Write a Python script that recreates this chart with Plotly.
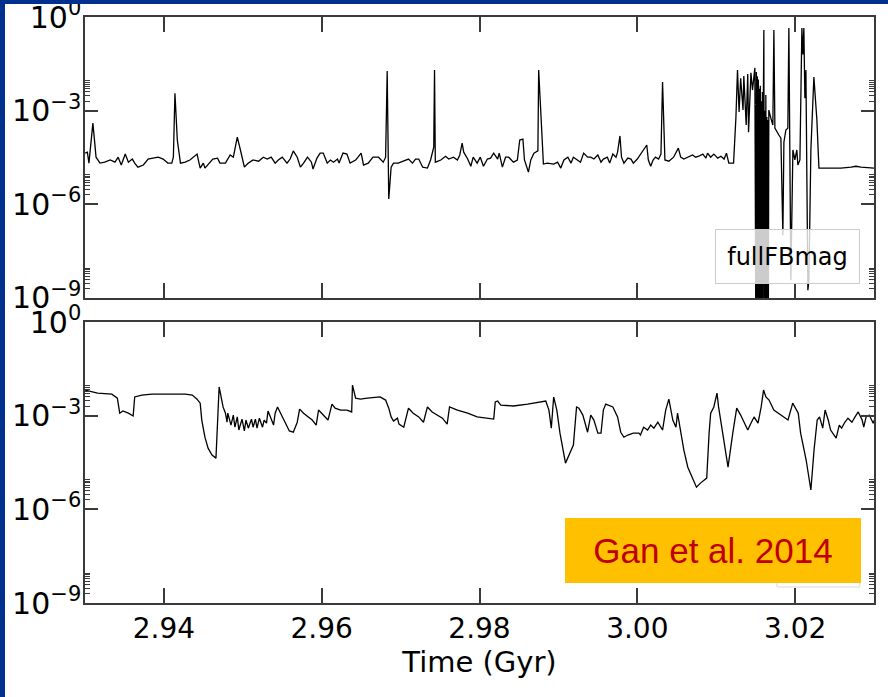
import plotly.graph_objects as go

# ---------------- data ----------------
# Upper panel: fullFBmag, time in Gyr and log10 of the magnitude
top_time = [
    2.9300, 2.9303, 2.9305, 2.9310, 2.9314, 2.9319, 2.9325, 2.9332, 2.9338, 2.9342,
    2.9346, 2.9351, 2.9355, 2.9360, 2.9363, 2.9367, 2.9374, 2.9380, 2.9386, 2.9393,
    2.9399, 2.9405, 2.9410, 2.9412, 2.9414, 2.9417, 2.9421, 2.9427, 2.9433, 2.9442,
    2.9446, 2.9450, 2.9452, 2.9456, 2.9462, 2.9468, 2.9471, 2.9478, 2.9484, 2.9488,
    2.9493, 2.9497, 2.9502, 2.9507, 2.9513, 2.9520, 2.9526, 2.9531, 2.9536, 2.9541,
    2.9545, 2.9550, 2.9556, 2.9560, 2.9564, 2.9569, 2.9573, 2.9577, 2.9582, 2.9587,
    2.9589, 2.9594, 2.9598, 2.9602, 2.9607, 2.9611, 2.9615, 2.9620, 2.9622, 2.9627,
    2.9632, 2.9636, 2.9643, 2.9646, 2.9650, 2.9653, 2.9659, 2.9665, 2.9672, 2.9678,
    2.9681, 2.9683, 2.9685, 2.9688, 2.9691, 2.9697, 2.9704, 2.9710, 2.9715, 2.9719,
    2.9723, 2.9728, 2.9734, 2.9738, 2.9742, 2.9743, 2.9744, 2.9751, 2.9757, 2.9761,
    2.9767, 2.9772, 2.9775, 2.9778, 2.9780, 2.9785, 2.9789, 2.9792, 2.9797, 2.9801,
    2.9805, 2.9810, 2.9814, 2.9818, 2.9823, 2.9825, 2.9829, 2.9833, 2.9837, 2.9843,
    2.9848, 2.9851, 2.9855, 2.9857, 2.9862, 2.9865, 2.9869, 2.9874, 2.9875, 2.9879,
    2.9881, 2.9886, 2.9894, 2.9899, 2.9903, 2.9907, 2.9912, 2.9916, 2.9919, 2.9924,
    2.9928, 2.9932, 2.9937, 2.9941, 2.9945, 2.9950, 2.9954, 2.9957, 2.9962, 2.9965,
    2.9969, 2.9973, 2.9975, 2.9978, 2.9980, 2.9983, 2.9988, 2.9992, 2.9995, 3.0000,
    3.0004, 3.0008, 3.0012, 3.0014, 3.0017, 3.0020, 3.0023, 3.0027, 3.0030, 3.0032,
    3.0035, 3.0040, 3.0046, 3.0052, 3.0055, 3.0059, 3.0065, 3.0070, 3.0074, 3.0078,
    3.0083, 3.0087, 3.0089, 3.0093, 3.0097, 3.0102, 3.0106, 3.0110, 3.0113, 3.0116,
    3.0122, 3.0125, 3.0127, 3.0129, 3.0131, 3.0134, 3.0135, 3.0138, 3.0140, 3.0141,
    3.0144, 3.0146, 3.0149,
    3.01502, 3.01509, 3.01515, 3.01521, 3.01528, 3.01534, 3.01540, 3.01547, 3.01553,
    3.01559, 3.01566, 3.01572, 3.01578, 3.01585, 3.01591, 3.01597, 3.01604, 3.01610,
    3.01616, 3.01623, 3.01629, 3.01635, 3.01642, 3.01648, 3.01655, 3.01661, 3.01667,
    3.01693, 3.01718, 3.01731, 3.01744, 3.01794, 3.01820, 3.01845, 3.01858, 3.01883,
    3.01908, 3.01921, 3.01946, 3.01972, 3.01997, 3.02022, 3.02035, 3.02061, 3.02086,
    3.02099, 3.02111, 3.02124, 3.02137, 3.02162, 3.02175, 3.02200, 3.02238, 3.02276,
    3.02302, 3.02327, 3.02454, 3.02581, 3.02708, 3.02771, 3.02835, 3.03000,
]
top_log10 = [
    -4.36, -4.33, -4.68, -3.40, -4.49, -4.68, -4.65, -4.58, -4.65, -4.49,
    -4.74, -4.39, -4.65, -4.55, -4.68, -4.81, -4.74, -4.55, -4.52, -4.49,
    -4.55, -4.68, -4.68, -4.49, -2.44, -3.94, -4.68, -4.65, -4.58, -4.39,
    -4.84, -4.68, -4.84, -4.71, -4.55, -4.52, -4.68, -4.68, -4.42, -4.49,
    -3.85, -4.26, -4.81, -4.68, -4.58, -4.62, -4.49, -4.55, -4.49, -4.68,
    -4.58, -4.49, -4.68, -4.55, -4.29, -4.49, -4.81, -4.68, -4.49, -4.65,
    -4.87, -4.52, -4.36, -4.36, -4.68, -4.58, -4.65, -4.55, -4.68, -4.36,
    -4.39, -4.68, -4.58, -4.49, -4.36, -4.74, -4.68, -4.49, -4.49, -4.65,
    -4.49, -1.73, -5.83, -4.81, -4.68, -4.68, -4.62, -4.55, -4.68, -4.55,
    -4.55, -4.81, -4.84, -4.58, -4.17, -1.70, -4.65, -4.58, -4.46, -4.55,
    -4.49, -4.58, -4.42, -4.04, -4.33, -4.55, -4.78, -4.49, -4.68, -4.49,
    -4.78, -4.55, -4.52, -4.36, -4.55, -4.36, -4.81, -4.49, -4.49, -4.65,
    -4.58, -3.94, -3.91, -4.58, -4.97, -4.58, -4.36, -4.29, -1.70, -3.94,
    -4.71, -4.68, -4.71, -4.65, -4.84, -4.58, -4.49, -4.68, -4.49, -4.58,
    -4.65, -4.36, -4.49, -4.49, -4.55, -4.42, -4.65, -4.55, -4.49, -4.68,
    -4.39, -4.49, -4.33, -3.81, -4.49, -4.68, -4.52, -4.55, -4.68, -4.55,
    -4.39, -4.26, -4.10, -4.58, -4.78, -4.58, -4.49, -4.55, -4.39, -2.08,
    -4.58, -4.62, -4.49, -4.20, -4.49, -4.55, -4.49, -4.42, -4.49, -4.46,
    -4.39, -4.52, -4.36, -4.49, -4.39, -4.52, -4.46, -4.55, -4.36, -4.68,
    -4.68, -3.21, -1.70, -3.04, -1.96, -2.98, -1.89, -3.46, -1.83, -3.69,
    -1.79, -2.34, -1.63,
    -10.0, -1.76, -10.0, -1.90, -10.0, -2.00, -10.0, -2.30, -10.0,
    -2.20, -10.0, -2.70, -10.0, -2.40, -10.0, -2.90, -0.42, -10.0,
    -3.00, -10.0, -2.50, -10.0, -3.20, -9.70, -3.30, -10.0, -2.98,
    -3.24, -3.46, -0.42, -3.56, -3.78, -3.88, -6.99, -4.01, -3.62,
    -3.56, -0.35, -8.43, -4.26, -4.58, -4.26, -4.74, -4.58, -0.35,
    -1.20, -0.35, -2.60, -1.70, -8.75, -8.43, -4.26, -1.92, -3.30,
    -4.84, -4.84, -4.84, -4.84, -4.81, -4.78, -4.81, -4.84,
]

# Lower panel: time in Gyr and log10 of the magnitude
bottom_time = [
    2.9300, 2.9316, 2.9334, 2.9341, 2.9344, 2.9348, 2.9355, 2.9361, 2.9363, 2.9372,
    2.9385, 2.9405, 2.9427, 2.9436, 2.9442, 2.9446, 2.9448, 2.9452, 2.9456, 2.9461,
    2.9466, 2.9470, 2.9475, 2.9478, 2.9480, 2.9481, 2.9485, 2.9488, 2.9490, 2.9493,
    2.9495, 2.9499, 2.9502, 2.9504, 2.9507, 2.9511, 2.9513, 2.9516, 2.9518, 2.9521,
    2.9525, 2.9527, 2.9530, 2.9532, 2.9536, 2.9539, 2.9541, 2.9544, 2.9549, 2.9554,
    2.9559, 2.9564, 2.9568, 2.9569, 2.9572, 2.9577, 2.9583, 2.9588, 2.9593, 2.9596,
    2.9602, 2.9608, 2.9613, 2.9617, 2.9624, 2.9632, 2.9638, 2.9639, 2.9643, 2.9649,
    2.9658, 2.9668, 2.9674, 2.9681, 2.9685, 2.9688, 2.9691, 2.9696, 2.9698, 2.9704,
    2.9707, 2.9710, 2.9716, 2.9723, 2.9729, 2.9734, 2.9740, 2.9747, 2.9753, 2.9759,
    2.9762, 2.9772, 2.9785, 2.9797, 2.9810, 2.9818, 2.9820, 2.9823, 2.9827, 2.9843,
    2.9861, 2.9874, 2.9884, 2.9888, 2.9891, 2.9894, 2.9898, 2.9902, 2.9909, 2.9915,
    2.9919, 2.9923, 2.9926, 2.9931, 2.9937, 2.9941, 2.9945, 2.9950, 2.9954, 2.9957,
    2.9960, 2.9969, 2.9975, 2.9979, 2.9983, 2.9988, 2.9995, 3.0002, 3.0004, 3.0008,
    3.0013, 3.0017, 3.0021, 3.0026, 3.0032, 3.0036, 3.0040, 3.0045, 3.0049, 3.0051,
    3.0055, 3.0059, 3.0064, 3.0070, 3.0075, 3.0080, 3.0088, 3.0091, 3.0093, 3.0097,
    3.0101, 3.0103, 3.0110, 3.0115, 3.0121, 3.0126, 3.0131, 3.0135, 3.0140, 3.0144,
    3.0148, 3.0153, 3.0157, 3.0160, 3.0163, 3.0167, 3.0173, 3.0182, 3.0191, 3.0197,
    3.0204, 3.0207, 3.0214, 3.0220, 3.0224, 3.0228, 3.0231, 3.0235, 3.0238, 3.0242,
    3.0245, 3.0252, 3.0256, 3.0259, 3.0263, 3.0267, 3.0272, 3.0276, 3.0280, 3.0285,
    3.0287, 3.0290, 3.0294, 3.0299, 3.0301,
]
bottom_log10 = [
    -2.18, -2.28, -2.31, -2.44, -2.92, -2.85, -2.92, -3.01, -2.40, -2.34,
    -2.31, -2.31, -2.31, -2.34, -2.47, -2.60, -3.14, -3.69, -4.04, -4.26,
    -4.36, -2.08, -2.72, -2.92, -3.21, -2.92, -3.30, -2.98, -3.37, -3.04,
    -3.46, -3.11, -3.49, -3.14, -3.40, -3.11, -3.37, -3.11, -3.40, -3.08,
    -3.37, -3.14, -3.24, -2.85, -3.11, -3.30, -2.92, -2.72, -2.98, -3.24,
    -3.49, -3.53, -3.30, -3.21, -2.79, -2.92, -3.04, -3.14, -3.30, -2.82,
    -2.98, -3.14, -2.63, -2.76, -2.82, -2.82, -2.88, -2.02, -2.44, -2.47,
    -2.44, -2.40, -2.40, -2.50, -2.76, -3.04, -3.17, -3.08, -3.27, -3.37,
    -3.04, -2.76, -2.92, -3.04, -3.21, -2.72, -2.88, -2.98, -3.08, -3.27,
    -2.72, -2.82, -2.92, -3.04, -3.08, -3.11, -2.56, -2.53, -2.66, -2.69,
    -2.63, -2.56, -2.53, -2.82, -3.40, -2.40, -2.82, -3.56, -4.52, -4.17,
    -3.94, -2.72, -2.76, -2.98, -3.53, -2.98, -3.14, -3.56, -3.56, -2.82,
    -2.63, -2.72, -3.04, -3.53, -3.69, -3.62, -3.56, -3.56, -3.62, -3.37,
    -3.46, -3.30, -3.40, -3.21, -3.46, -2.82, -2.47, -3.14, -3.37, -2.92,
    -3.56, -4.10, -4.65, -4.97, -5.29, -5.16, -5.00, -3.56, -2.92, -2.72,
    -2.28, -2.72, -3.88, -4.65, -3.56, -2.76, -2.98, -3.21, -3.46, -3.24,
    -3.04, -3.24, -2.72, -2.18, -2.40, -2.50, -2.82, -2.98, -3.14, -2.60,
    -2.92, -3.56, -4.42, -5.38, -4.10, -3.14, -3.04, -3.40, -2.82, -3.14,
    -3.46, -3.72, -3.30, -3.40, -3.21, -3.08, -3.21, -3.04, -2.88, -3.14,
    -3.37, -3.04, -2.98, -3.24, -3.11,
]

top_values = [10.0 ** v for v in top_log10]
bottom_values = [10.0 ** v for v in bottom_log10]

x_tick_values = [2.94, 2.96, 2.98, 3.00, 3.02]
x_tick_labels = ["2.94", "2.96", "2.98", "3.00", "3.02"]
y_tick_values = [1e-9, 1e-6, 1e-3, 1.0]
y_tick_labels = ["10<sup>−9</sup>", "10<sup>−6</sup>", "10<sup>−3</sup>", "10<sup>0</sup>"]
y_minor_values = [m * 10.0 ** e for e in (-9, -6, -3) for m in range(2, 10)]

legend_label = "fullFBmag"
citation = "Gan et al. 2014"
x_title = "Time (Gyr)"

# ---------------- figure ----------------
AX = "#3a3a3a"
fig = go.Figure()
fig.add_trace(go.Scatter(x=top_time, y=top_values, mode="lines",
                         line=dict(color="black", width=1.3),
                         xaxis="x", yaxis="y", showlegend=False))
fig.add_trace(go.Scatter(x=bottom_time, y=bottom_values, mode="lines",
                         line=dict(color="black", width=1.3),
                         xaxis="x2", yaxis="y2", showlegend=False))

xfont = dict(family="DejaVu Sans", size=28, color="black")
yfont = dict(family="DejaVu Sans", size=30, color="black")
xcommon = dict(range=[2.93, 3.03], showline=True, linecolor=AX, linewidth=1.5,
               mirror="ticks", ticks="inside", ticklen=15, tickwidth=1.5,
               tickcolor=AX, showgrid=False, zeroline=False, automargin=False,
               tickvals=x_tick_values, ticktext=x_tick_labels, tickfont=xfont)
ycommon = dict(type="log", range=[-9, 0], showline=True, linecolor=AX, linewidth=1.5,
               mirror="ticks", ticks="inside", ticklen=13, tickwidth=1.5,
               tickcolor=AX, showgrid=False, zeroline=False, automargin=False,
               ticklabeloverflow="allow", ticklabelstandoff=-4,
               tickvals=y_tick_values, ticktext=y_tick_labels, tickfont=yfont,
               minor=dict(tickvals=y_minor_values, ticks="inside", ticklen=5,
                          tickwidth=1.2, tickcolor=AX, showgrid=False))

fig.update_layout(
    width=888, height=697, autosize=False,
    margin=dict(l=85, r=14, t=17, b=94, autoexpand=False),
    paper_bgcolor="white", plot_bgcolor="white",
    xaxis=dict(xcommon, anchor="y", showticklabels=False, matches="x2"),
    yaxis=dict(ycommon, domain=[0.5205, 1.0], anchor="x"),
    xaxis2=dict(xcommon, anchor="y2",
                title=dict(text=x_title, font=dict(family="DejaVu Sans", size=29, color="black"),
                           standoff=6)),
    yaxis2=dict(ycommon, domain=[0.0, 0.4795], anchor="x2"),
)

BLUE = "#00318f"
fig.update_layout(shapes=[
    # faint legend box of the lower panel (mostly hidden by the citation box)
    dict(type="rect", xref="paper", yref="paper", x0=0.877, x1=0.982, y0=0.0273, y1=0.0734,
         line=dict(color="#d8d8d8", width=1), fillcolor="white", layer="above"),
    # slide border strips
    dict(type="rect", xref="paper", yref="paper", x0=-0.11, x1=1.02, y0=1.0222, y1=1.035,
         line=dict(width=0), fillcolor=BLUE, layer="above"),
    dict(type="rect", xref="paper", yref="paper", x0=-0.11, x1=-0.1014, y0=-0.17, y1=1.035,
         line=dict(width=0), fillcolor=BLUE, layer="above"),
])

fig.update_layout(annotations=[
    dict(xref="paper", yref="paper", x=0.8904, y=0.5913, xanchor="center", yanchor="middle",
         text=legend_label, showarrow=False,
         font=dict(family="DejaVu Sans", size=24, color="black"),
         bgcolor="rgba(255,255,255,0.8)", bordercolor="#cccccc", borderwidth=1,
         borderpad=2, width=139, height=49),
    dict(xref="paper", yref="paper", x=0.796, y=0.0896, xanchor="center", yanchor="middle",
         text=citation, showarrow=False,
         font=dict(family="Liberation Sans, Arial", size=35, color="#C00000"),
         bgcolor="#FFC000", borderwidth=0, borderpad=2, width=292, height=61),
])

fig.write_html("out.html")
